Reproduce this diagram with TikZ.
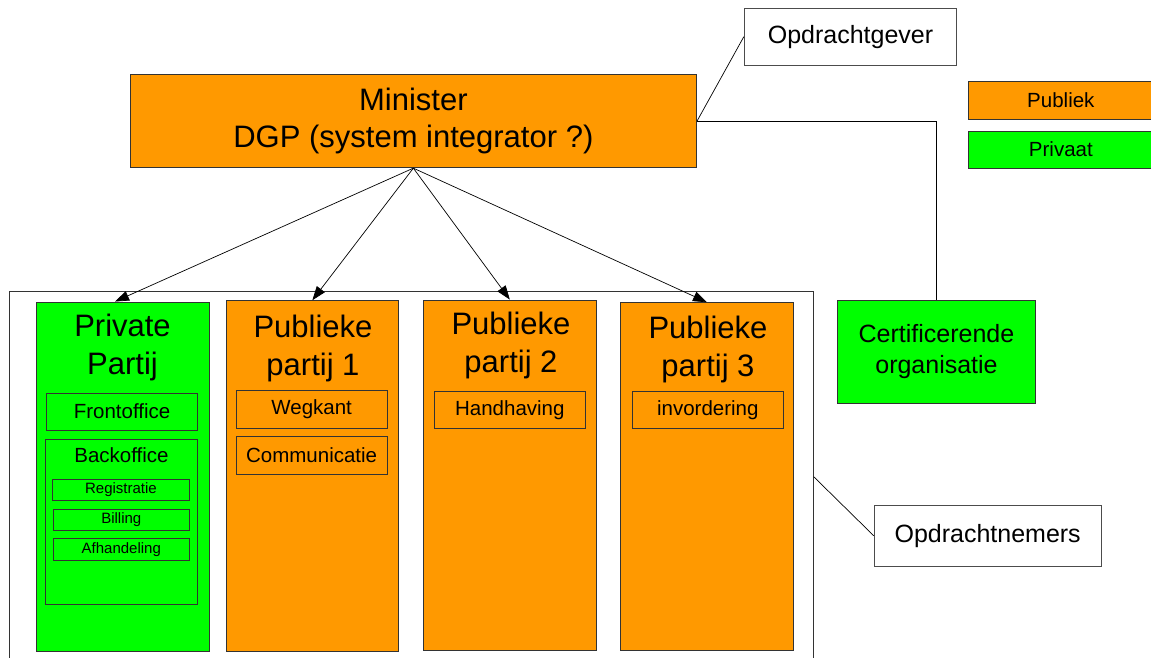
\documentclass[tikz,border=0pt]{standalone}
\usepackage{fontspec}
\setmainfont{Liberation Sans}
\usetikzlibrary{arrows.meta}
\definecolor{publiek}{HTML}{FF9900}
\definecolor{privaat}{HTML}{00FF00}
\definecolor{rand}{HTML}{333333}

\tikzset{
  box/.style={draw=rand, line width=0.9pt, inner sep=0pt, align=center},
  orangebox/.style={box, fill=publiek},
  greenbox/.style={box, fill=privaat},
  whitebox/.style={box, fill=white, draw=black!70},
  dims/.style 2 args={minimum width=#1pt, minimum height=#2pt},
  conn/.style={draw=black, line width=0.7pt},
  arr/.style={conn, -{Triangle[length=14pt,width=10pt]}},
  huge/.style={font=\fontsize{31}{38.5}\selectfont, align=center, inner sep=0pt},
  mid/.style={font=\fontsize{25}{31}\selectfont},
  small/.style={font=\fontsize{20.5}{25}\selectfont},
  tiny/.style={font=\fontsize{15}{18}\selectfont},
}

\begin{document}
\begin{tikzpicture}[x=1pt, y=-1pt]
  \clip (0,0) rectangle (1151,657);
  \fill[white] (0,0) rectangle (1151,657);

  % contractor frame
  \node[draw=black!80, line width=0.8pt, dims={803.8}{370}, inner sep=0pt] (frame) at (411.4,476.7) {};

  % top level
  \node[orangebox, dims={566.7}{93.7}, font=\fontsize{31}{37.6}\selectfont] (minister) at (413.35,120.85)
    {Minister\\DGP (system integrator ?)};
  \node[whitebox, dims={212.4}{56.7}, mid] (gever) at (850.5,36.65) {Opdrachtgever};

  % legend
  \node[orangebox, dims={184.3}{37.6}, small] (legpub) at (1060.85,100.5) {Publiek};
  \node[greenbox, dims={184.3}{37.3}, small] (legpriv) at (1060.85,149.65) {Privaat};

  % parties
  \node[greenbox, dims={172.6}{349}] (pvt) at (123,476.5) {};
  \node[orangebox, dims={172.7}{350.3}] (pp1) at (312.35,475.85) {};
  \node[orangebox, dims={173}{350}] (pp2) at (509.8,475) {};
  \node[orangebox, dims={173.4}{347.3}] (pp3) at (707,476.35) {};

  \node[huge] (pvtt) at (122.5,347.7) {Private\\Partij};
  \node[huge] (pp1t) at (313,348.4) {Publieke\\partij 1};
  \node[huge] (pp2t) at (511,345.7) {Publieke\\partij 2};
  \node[huge] (pp3t) at (708,349.4) {Publieke\\partij 3};

  % private party contents
  \node[greenbox, dims={150.6}{36.7}, small] (front) at (122,411.65) {Frontoffice};
  \node[greenbox, dims={151.6}{164.7}] (back) at (121.5,521.65) {};
  \node[small, anchor=base, inner sep=0pt] (backt) at (121.5,462.7) {Backoffice};
  \node[greenbox, dims={136.6}{21.7}, tiny] (reg) at (121,489.85) {Registratie};
  \node[greenbox, dims={136}{21.7}, tiny] (bill) at (121.3,519.85) {Billing};
  \node[greenbox, dims={136}{22}, tiny] (afh) at (121.3,549.3) {Afhandeling};

  % public party contents
  \node[orangebox, dims={151.3}{37.7}, small] (weg) at (311.65,409.15) {Wegkant};
  \node[orangebox, dims={151.3}{37.7}, small] (comm) at (311.65,455.15) {Communicatie};
  \node[orangebox, dims={151.7}{37.7}, small] (hand) at (509.85,409.85) {Handhaving};
  \node[orangebox, dims={151.7}{37.7}, small] (invo) at (707.85,409.85) {invordering};

  % certification and contractors
  \node[greenbox, dims={197.6}{103}, mid] (cert) at (936.5,351.5) {Certificerende\\organisatie};
  \node[whitebox, dims={226.7}{60.3}, mid] (nemers) at (987.65,535.85) {Opdrachtnemers};

  % connectors
  \draw[conn] (minister.east) -- (gever.west);
  \draw[conn] (minister.east) -| (cert.north);
  \draw[conn] (frame.east) -- (nemers.west);

  \draw[arr] (minister.south) -- ([xshift=-8pt]pvt.north);
  \draw[arr] (minister.south) -- (pp1.north);
  \draw[arr] (minister.south) -- (pp2.north);
  \draw[arr] (minister.south) -- (pp3.north);
\end{tikzpicture}
\end{document}
